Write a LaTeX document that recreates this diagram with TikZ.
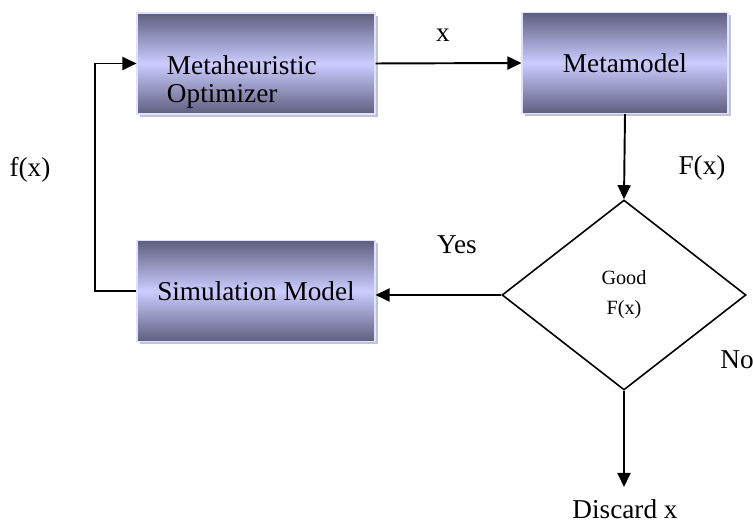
\documentclass[tikz,border=0pt]{standalone}
\usepackage{fontspec}
\setmainfont{Liberation Serif}
\usetikzlibrary{shapes.geometric}
\usetikzlibrary{arrows.meta}
\usetikzlibrary{shadows}

\definecolor{boxDark}{HTML}{5E5E7E}
\definecolor{boxLight}{HTML}{CCCCFF}
\definecolor{boxShadow}{HTML}{C2C2D6}

\begin{document}
\begin{tikzpicture}[
    line width = 1.1pt,
    black,
    >={Triangle[length=0.28cm, width=0.26cm]},
    procBox/.style = {rectangle, draw = boxLight!60!white, line width = 0.6pt,
        inner sep = 0pt,
        top color = boxDark, bottom color = boxDark, middle color = boxLight,
        minimum height = 2.02cm,
        drop shadow = {shadow xshift = 0.06cm, shadow yshift = -0.06cm,
                       fill = boxShadow, draw = none, opacity = 1},
        font = \fontsize{15.5}{16}\selectfont},
    decision/.style = {diamond, draw, line width = 0.9pt, inner sep = 0pt,
        minimum width = 4.88cm, minimum height = 3.8cm, align = center,
        font = \fontsize{11.5}{17}\selectfont},
    lbl/.style = {inner sep = 0pt, font = \fontsize{15.5}{16}\selectfont},
    ]

    % Determines the boundries
    \path[use as bounding box] (0,0) rectangle (15.06,10.46);

    \def\boxH{2.02}         % height of the boxes
    \def\loopX{1.9}         % x of the feedback line

    % The boxes
    \node[procBox, minimum width = 4.76cm] (opt)  at (5.12, 9.19) {};
    \node[procBox, minimum width = 4.12cm] (meta) at (12.5, 9.20) {Metamodel};
    \node[procBox, minimum width = 4.76cm] (sim)  at (5.12, 4.64) {Simulation Model};

    % Text of the optimizer, left aligned and low in the box
    \node[lbl, align = left, anchor = base west] (optText) at (3.32, 8.40)
        {Metaheuristic\\Optimizer};

    % The test
    \node[decision] (good) at (12.48, 4.56) {Good\\F(x)};

    % Where the rejected x ends up
    \coordinate (discard) at (12.48, 0.72);
    \coordinate (loopBase) at (\loopX, 0);

    % Connectors
    \draw[->] (opt.east) -- (meta.west);
    \draw[->] (meta.south) -- (good.north);
    \draw[->] (good.west) -- (good.west -| sim.east);
    \draw[->] (good.south) -- (discard);
    \draw[->] (sim.west) -- (sim.west -| loopBase) |- (opt.west);

    % Labels
    \node[lbl] (xLbl)   at (8.86, 9.76) {x};
    \node[lbl] (fLbl)   at (0.60, 7.06) {f(x)};
    \node[lbl] (FLbl)   at (14.04, 7.10) {F(x)};
    \node[lbl] (yesLbl) at (9.14, 5.56) {Yes};
    \node[lbl] (noLbl)  at (14.74, 3.26) {No};
    \node[lbl] (disLbl) at (12.50, 0.27) {Discard x};
\end{tikzpicture}
\end{document}
